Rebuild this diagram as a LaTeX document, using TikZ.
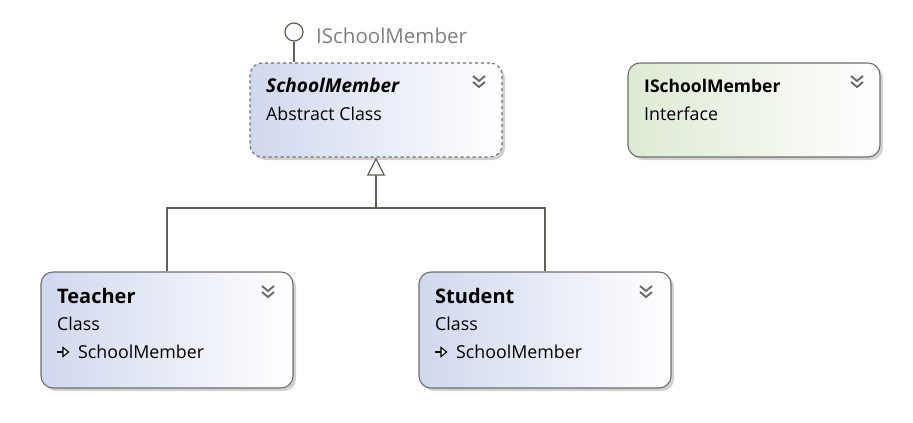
\documentclass[tikz,border=0pt]{standalone}
\usepackage{fontspec}
\setmainfont{Open Sans}
\usetikzlibrary{shadows,arrows.meta}
\definecolor{bord}{RGB}{110,110,105}
\definecolor{conn}{RGB}{95,95,85}
\definecolor{blueL}{RGB}{208,216,238}
\definecolor{greenL}{RGB}{222,234,212}
\definecolor{chev}{RGB}{105,105,105}
\tikzset{
  box/.style={draw=bord, line width=1.1pt, rounded corners=12pt, minimum width=252pt, inner sep=0pt,
    drop shadow={shadow xshift=3pt, shadow yshift=-3pt, fill=black, opacity=0.18}},
  classbox/.style={box, left color=blueL, right color=white},
  ifacebox/.style={box, left color=greenL, right color=white},
  ttl/.style={anchor=base west, inner sep=0pt, font=\fontsize{18.5}{22}\selectfont\bfseries},
  sub/.style={anchor=base west, inner sep=0pt, font=\fontsize{17.8}{21}\selectfont},
  chevron/.style={draw=chev, line width=1.9pt},
  conline/.style={draw=conn, line width=1.2pt},
}
\newcommand{\chevicon}[2]{%
  \draw[chevron] (#1-6,#2-5)--(#1,#2)--(#1+6,#2-5);
  \draw[chevron] (#1-6,#2+1)--(#1,#2+6)--(#1+6,#2+1);}
\newcommand{\implicon}[2]{%
  \draw[black, line width=1.3pt] (#1,#2)--(#1+6.5,#2);
  \draw[black, line width=1.1pt, fill=white] (#1+6,#2-4.5)--(#1+11.5,#2)--(#1+6,#2+4.5)--cycle;}
\begin{document}
\begin{tikzpicture}[x=1pt,y=-1pt]
\useasboundingbox[fill=white] (0,0) rectangle (913,423);
% boxes
\node[classbox, dashed, minimum height=94pt] (sm) at (376,110) {};
\node[ifacebox, minimum height=94pt] (ism) at (754,110) {};
\node[classbox, minimum height=116pt] (teacher) at (167,330) {};
\node[classbox, minimum height=116pt] (student) at (545,330) {};
% texts
\node[ttl, font=\fontsize{19}{22}\selectfont\bfseries\itshape] (smt) at (266,92) {SchoolMember};
\node[sub] (sms) at (266,120) {Abstract Class};
\node[ttl, font=\fontsize{17.5}{21}\selectfont\bfseries] (ismt) at (644,92) {ISchoolMember};
\node[sub] (isms) at (644,120) {Interface};
\node[ttl, font=\fontsize{20}{24}\selectfont\bfseries] (tt) at (57,303) {Teacher};
\node[sub] (ts) at (57,330) {Class};
\node[sub] (ti) at (78,358) {SchoolMember};
\node[ttl, font=\fontsize{20}{24}\selectfont\bfseries] (st) at (435,303) {Student};
\node[sub] (ss) at (435,330) {Class};
\node[sub] (si) at (456,358) {SchoolMember};
% icons
\chevicon{479}{81}
\chevicon{857}{81}
\chevicon{268}{291}
\chevicon{646}{291}
\implicon{57}{352}
\implicon{435}{352}
% lollipop
\node[circle, draw=conn, line width=1.2pt, minimum size=18pt, inner sep=0pt, fill=white] (lol) at (294,32) {};
\draw[conline] (lol.south) -- (lol.south |- sm.north);
\node[anchor=base west, inner sep=0pt, text=gray, font=\fontsize{20.5}{24}\selectfont] (loll) at (316,43) {ISchoolMember};
% inheritance
\coordinate (jn) at (376,208);
\draw[conline, -{Triangle[open, length=18pt, width=18pt, fill=white]}] (teacher.north) |- (jn) -- (sm.south);
\draw[conline] (student.north) |- (jn);
\end{tikzpicture}
\end{document}
